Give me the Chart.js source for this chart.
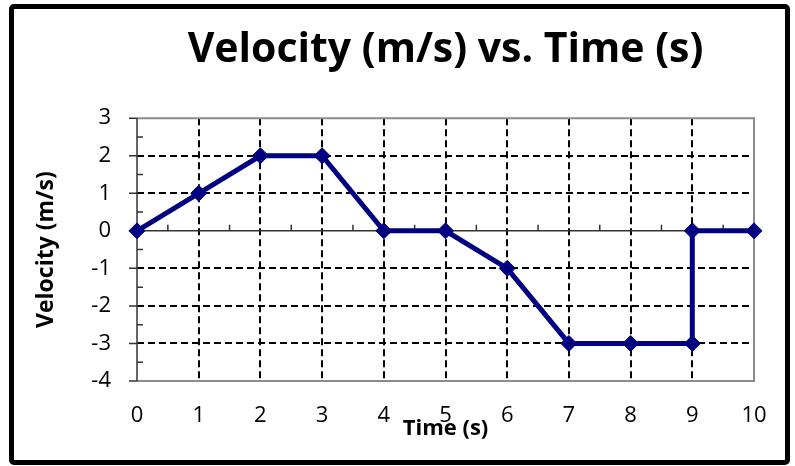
<!DOCTYPE html>
<html>
<head>
<meta charset="utf-8">
<title>Velocity (m/s) vs. Time (s)</title>
<script src="https://cdn.jsdelivr.net/npm/chart.js@4.4.1/dist/chart.umd.min.js"></script>
<style>
  html, body { margin: 0; padding: 0; background: #fff; }
  #wrap { position: relative; width: 795px; height: 466px; }
  #frame {
    position: absolute; left: 9px; top: 4px; width: 781px; height: 461px;
    box-sizing: border-box; border: 5px solid #000; border-radius: 5px;
    pointer-events: none;
  }
</style>
</head>
<body>
<div id="wrap">
  <canvas id="myChart" width="795" height="466"></canvas>
  <div id="frame"></div>
</div>
<script>
// data
const timeValues = [0, 1, 2, 3, 4, 5, 6, 7, 8, 9, 9, 10];
const velocityValues = [0, 1, 2, 2, 0, 0, -1, -3, -3, -3, 0, 0];
const timeTicks = [0, 1, 2, 3, 4, 5, 6, 7, 8, 9, 10];
const velocityTicks = [-4, -3, -2, -1, 0, 1, 2, 3];

const points = timeValues.map((t, i) => ({ x: t, y: velocityValues[i] }));

const FONT = "'Open Sans', sans-serif";
const NAVY = "#000080";

// plot frame, y axis with ticks, and the x axis line running through zero
const axesPlugin = {
  id: "axesLines",
  beforeDatasetsDraw(chart) {
    const { ctx, chartArea: a, scales: { x, y } } = chart;
    ctx.save();

    ctx.strokeStyle = "#8a8a8a";
    ctx.lineWidth = 2;
    ctx.beginPath();
    ctx.moveTo(a.left, a.top);
    ctx.lineTo(a.right, a.top);
    ctx.lineTo(a.right, a.bottom);
    ctx.lineTo(a.left, a.bottom);
    ctx.stroke();

    ctx.strokeStyle = "#333";
    ctx.lineWidth = 1.5;
    ctx.beginPath();
    ctx.moveTo(a.left, a.top);
    ctx.lineTo(a.left, a.bottom);
    velocityTicks.forEach(v => {
      const py = y.getPixelForValue(v);
      ctx.moveTo(a.left - 8, py);
      ctx.lineTo(a.left, py);
    });
    for (let v = velocityTicks[0] + 0.5; v < velocityTicks[velocityTicks.length - 1]; v += 1) {
      const py = y.getPixelForValue(v);
      ctx.moveTo(a.left, py);
      ctx.lineTo(a.left + 6, py);
    }

    const y0 = y.getPixelForValue(0);
    ctx.moveTo(a.left, y0);
    ctx.lineTo(a.right, y0);
    for (let v = timeTicks[0] + 0.5; v < timeTicks[timeTicks.length - 1]; v += 1) {
      const px = x.getPixelForValue(v);
      ctx.moveTo(px, y0);
      ctx.lineTo(px, y0 - 6);
    }
    ctx.stroke();
    ctx.restore();
  }
};

const ctx = document.getElementById("myChart");

new Chart(ctx, {
  type: "scatter",
  data: {
    datasets: [
      {
        label: "Velocity",
        data: points,
        showLine: true,
        borderColor: NAVY,
        backgroundColor: NAVY,
        borderWidth: 5,
        pointStyle: "rectRot",
        pointRadius: 8,
        pointBorderWidth: 1,
        pointHoverRadius: 8,
        clip: false,
      },
    ],
  },
  plugins: [axesPlugin],
  options: {
    responsive: false,
    animation: false,
    devicePixelRatio: 1,
    layout: {
      padding: { left: 0, right: 41, top: 0, bottom: 0 }
    },
    plugins: {
      legend: { display: false },
      tooltip: { enabled: false },
      title: {
        display: true,
        text: "Velocity (m/s) vs. Time (s)",
        color: "#000",
        fullSize: false,
        font: { family: FONT, size: 41, weight: "bold" },
        padding: { top: 26, bottom: 43 }
      }
    },
    scales: {
      x: {
        type: "linear",
        min: 0,
        max: 10,
        afterBuildTicks: s => { s.ticks = timeTicks.map(v => ({ value: v })); },
        afterFit: s => { s.height = 85; },
        grid: {
          color: c => (c.tick && (c.tick.value === 0 || c.tick.value === 10)) ? "rgba(0,0,0,0)" : "#000",
          lineWidth: 2,
          drawTicks: false,
        },
        border: { display: false, dash: [7, 4] },
        ticks: {
          color: "#000",
          padding: 22,
          font: { family: FONT, size: 22 }
        },
        title: {
          display: true,
          text: "Time (s)",
          color: "#000",
          font: { family: FONT, size: 22, weight: "bold" },
          padding: { top: 24, bottom: 24 }
        }
      },
      y: {
        type: "linear",
        min: -4,
        max: 3,
        afterBuildTicks: s => { s.ticks = velocityTicks.map(v => ({ value: v })); },
        afterFit: s => { s.width = 137; },
        grid: {
          color: c => (c.tick && (c.tick.value === 0 || c.tick.value === -4 || c.tick.value === 3)) ? "rgba(0,0,0,0)" : "#000",
          lineWidth: 2,
          drawTicks: false,
        },
        border: { display: false, dash: [7, 4] },
        ticks: {
          color: "#000",
          padding: 26,
          font: { family: FONT, size: 22 }
        },
        title: {
          display: true,
          text: "Velocity (m/s)",
          color: "#000",
          font: { family: FONT, size: 23, weight: "bold" },
          padding: { top: 33, bottom: 0 }
        }
      },
    },
  },
});
</script>
</body>
</html>
